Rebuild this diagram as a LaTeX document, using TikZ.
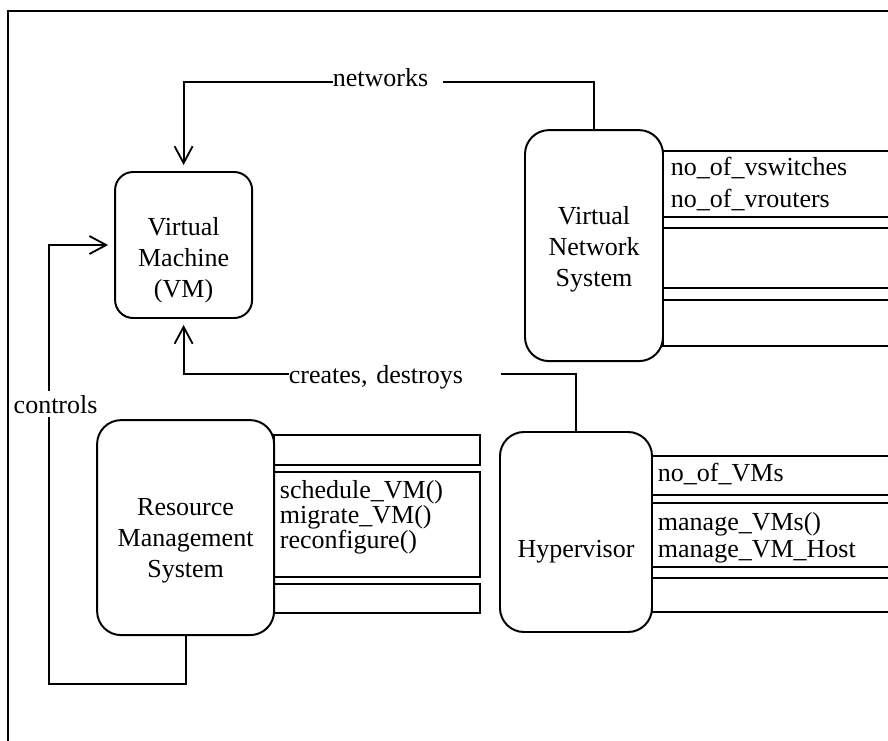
\documentclass[tikz,border=0pt]{standalone}
\usepackage{fontspec}
\setmainfont{Liberation Serif}
\usepackage{tikz}
\usetikzlibrary{calc,arrows.meta,positioning}

\begin{document}
\begin{tikzpicture}[
  line width=1.3pt,
  every node/.style={font=\fontsize{18.5}{22}\selectfont},
  blk/.style={draw, line width=1.4pt, rounded corners=0.6cm},
  lbl/.style={fill=white, inner sep=0pt, anchor=base west, align=left},
  attr/.style={anchor=west, align=left, inner sep=0pt},
  conn/.style={-{Straight Barb[length=4.2mm,width=4.5mm]}, shorten >=0.15cm}
]
  \useasboundingbox (0,0) rectangle (22.2,-18.5);
  \clip (0,0) rectangle (22.2,-18.5);
  \draw (0.2,-0.275) rectangle (23,-19);

  % the four blocks
  \node[blk, rounded corners=0.45cm, minimum width=3.425cm, minimum height=3.65cm] (vm) at (4.59,-6.125) {};
  \node[blk, minimum width=3.45cm, minimum height=5.775cm] (vns) at (14.85,-6.14) {};
  \node[blk, minimum width=4.425cm, minimum height=5.375cm] (rms) at (4.64,-13.19) {};
  \node[blk, minimum width=3.8cm, minimum height=5cm] (hyp) at (14.4,-13.3) {};
  \node[align=center] at (4.59,-6.5) {Virtual\\Machine\\(VM)};
  \node[align=center] at (14.85,-6.225) {Virtual\\Network\\System};
  \node[align=center] at (4.64,-13.525) {Resource\\Management\\System};
  \node at (14.4,-13.79) {Hypervisor};

  % compartments
  \draw (16.575,-3.775) rectangle (23,-5.425);
  \draw (16.575,-5.7) rectangle (23,-7.2);
  \draw (16.575,-7.5) rectangle (23,-8.65);
  \node[attr, font=\fontsize{18.5}{22.8}\selectfont] at (16.75,-4.59) {no\_of\_vswitches\\no\_of\_vrouters};

  \draw (6.85,-10.875) rectangle (12,-11.625);
  \draw (6.85,-11.8) rectangle (12,-14.425);
  \draw (6.85,-14.6) rectangle (12,-15.325);
  \node[attr, font=\fontsize{18.5}{17.8}\selectfont] at (6.975,-12.925) {schedule\_VM()\\migrate\_VM()\\reconfigure()};

  \draw (16.3,-11.4) rectangle (23,-12.375);
  \draw (16.3,-12.575) rectangle (23,-14.175);
  \draw (16.3,-14.45) rectangle (23,-15.3);
  \node[attr] at (16.425,-11.86) {no\_of\_VMs};
  \node[attr, font=\fontsize{18.5}{19.2}\selectfont] at (16.425,-13.44) {manage\_VMs()\\manage\_VM\_Host};

  % connectors
  \draw[conn] (vns.north) -- ++(0,1.175) -| (vm.north);
  \draw[conn] (hyp.north) -- ++(0,1.425) -| (vm.south);
  \draw[conn] (rms.south) -- ++(0,-1.2) -| ([xshift=-1.625cm]vm.west) -- (vm.west);
  \node[lbl, text width=2.75cm] at (8.3,-2.1675) {networks};
  \node[lbl, text width=5.3cm] at (7.2,-9.575) {creates, destroys};
  \node[lbl, anchor=base, inner ysep=3pt] at (1.39,-10.325) {controls};
\end{tikzpicture}
\end{document}
